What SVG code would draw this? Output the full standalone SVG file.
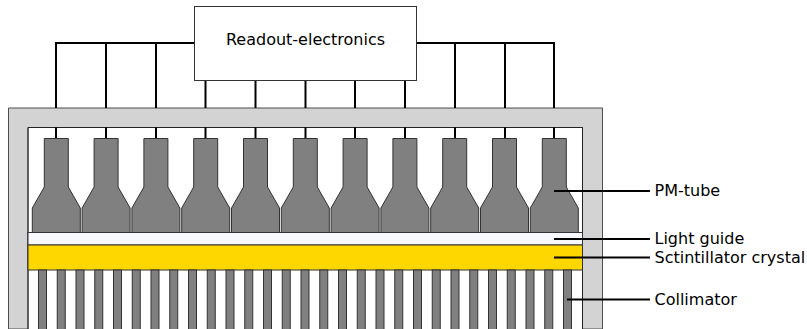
<svg xmlns="http://www.w3.org/2000/svg" xmlns:xlink="http://www.w3.org/1999/xlink" width="807" height="329" viewBox="0 0 807 329">
<style>
.t{font-family:"DejaVu Sans",sans-serif;font-size:16px;fill:#000}
.w{fill:none;stroke:#000;stroke-width:2}
.tb{fill:#808080;stroke:#333;stroke-width:1}
.bar{fill:#808080;stroke:#333;stroke-width:1}
</style>
<defs>
<path id="tube" class="tb" d="M-12,138.5H12V187L24,208V232.500H-24V208L-12,187Z"/>
<rect id="bar" class="bar" x="38.500" y="270" width="8" height="60"/>
</defs>
<g id="shield"><path d="M8.500,329V108H602.500V329H582.500V127.500H28V329Z" fill="#d3d3d3" stroke="#4d4d4d" stroke-width="1"/><path d="M28,329V127.500H582.500V329" fill="none" stroke="#222" stroke-width="1"/></g>
<g id="connectors">
<path class="w" d="M56,108V43H194M106,108V43M156,108V43M205.500,108V80M255.500,108V80M305.500,108V80M355,108V80M405,108V80M416,43H554V108M455,108V43M505,108V43"/>
<path class="w" d="M56,127.500V138M106,127.500V138M156,127.500V138M205.500,127.500V138M255.500,127.500V138M305.500,127.500V138M355,127.500V138M405,127.500V138M455,127.500V138M505,127.500V138M554,127.500V138"/>
</g>
<g id="readout"><rect x="194.500" y="6.500" width="222" height="74" fill="#fff" stroke="#333"/><text class="t" x="305.500" y="45" text-anchor="middle">Readout-electronics</text></g>
<g id="pm-tubes">
<use href="#tube" x="56.300"/><use href="#tube" x="106.100"/><use href="#tube" x="155.900"/><use href="#tube" x="205.700"/><use href="#tube" x="255.500"/><use href="#tube" x="305.300"/><use href="#tube" x="355.100"/><use href="#tube" x="404.900"/><use href="#tube" x="454.700"/><use href="#tube" x="504.500"/><use href="#tube" x="554.300"/>
</g>
<g id="light-guide"><rect x="28" y="232.500" width="554.500" height="12.500" fill="#f8f8ff" stroke="#333"/></g>
<g id="crystal"><rect x="28" y="245" width="554.500" height="25" fill="#ffd700" stroke="#333"/></g>
<g id="collimator">
<use href="#bar" x="0"/><use href="#bar" x="18.750"/><use href="#bar" x="37.500"/><use href="#bar" x="56.250"/><use href="#bar" x="75"/><use href="#bar" x="93.750"/><use href="#bar" x="112.500"/><use href="#bar" x="131.250"/><use href="#bar" x="150"/><use href="#bar" x="168.750"/><use href="#bar" x="187.500"/><use href="#bar" x="206.250"/><use href="#bar" x="225"/><use href="#bar" x="243.750"/><use href="#bar" x="262.500"/><use href="#bar" x="281.250"/><use href="#bar" x="300"/><use href="#bar" x="318.750"/><use href="#bar" x="337.500"/><use href="#bar" x="356.250"/><use href="#bar" x="375"/><use href="#bar" x="393.750"/><use href="#bar" x="412.500"/><use href="#bar" x="431.250"/><use href="#bar" x="450"/><use href="#bar" x="468.750"/><use href="#bar" x="487.500"/><use href="#bar" x="506.250"/><use href="#bar" x="525"/>
</g>
<g id="leaders">
<path class="w" d="M554,191H650M554,239H650M554,257.500H650M567,299.500H650"/>
</g>
<g id="labels">
<text class="t" x="654.500" y="196">PM-tube</text>
<text class="t" x="654.500" y="244">Light guide</text>
<text class="t" x="654.500" y="262.500">Sctintillator crystal</text>
<text class="t" x="654.500" y="304.500">Collimator</text>
</g>
</svg>
